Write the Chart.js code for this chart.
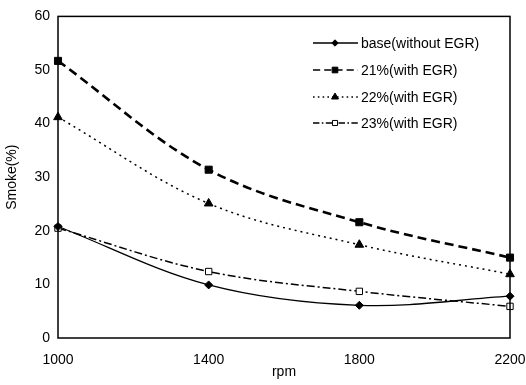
<!DOCTYPE html>
<html><head><meta charset="utf-8">
<script src="https://cdn.jsdelivr.net/npm/chart.js@4"></script>
<style>html,body{margin:0;padding:0;background:#fff}#wrap{width:526px;height:385px}</style>
</head><body><div id="wrap"><canvas id="c" width="526" height="385"></canvas></div>
<script>
const rpm = [1000, 1400, 1800, 2200];
const xTicks = [1000, 1400, 1800, 2200];
const seriesNames = ['base(without EGR)', '21%(with EGR)', '22%(with EGR)', '23%(with EGR)'];
const baseValues = [20.8, 9.9, 6.1, 7.8];
const egr21Values = [51.7, 31.4, 21.6, 15.0];
const egr22Values = [41.2, 25.1, 17.4, 11.9];
const egr23Values = [20.5, 12.4, 8.7, 5.9];

const FONT = 'Liberation Sans, Arial, sans-serif';
const styles = [
  {dash: [], width: 1.3, point: 'rectRot', radius: 4, fill: '#000'},
  {dash: [9, 5], width: 2.6, point: 'rect', radius: 5, fill: '#000'},
  {dash: [2, 4], width: 1.5, point: 'triangle', radius: 5, fill: '#000'},
  {dash: [8, 3, 2, 3], width: 1.5, point: 'rect', radius: 4.5, fill: '#fff'}
];
const values = [baseValues, egr21Values, egr22Values, egr23Values];

const datasets = values.map((v, i) => ({
  label: seriesNames[i],
  data: rpm.map((x, j) => ({x: x, y: v[j]})),
  borderColor: '#000',
  borderWidth: styles[i].width,
  borderDash: styles[i].dash,
  pointStyle: styles[i].point,
  pointRadius: styles[i].radius,
  pointBackgroundColor: styles[i].fill,
  pointBorderColor: '#000',
  pointBorderWidth: 1,
  tension: 0.35,
  fill: false,
  clip: false
}));

const boxAndLegend = {
  id: 'boxAndLegend',
  afterDatasetsDraw(chart) {
    const {ctx, chartArea: a} = chart;
    ctx.save();
    ctx.strokeStyle = '#000';
    ctx.lineWidth = 1.5;
    ctx.setLineDash([]);
    ctx.strokeRect(a.left, a.top, a.right - a.left, a.bottom - a.top);
    const x0 = 313, x1 = 358, xm = 335, xt = 361;
    const ys = [43, 70, 97, 123];
    ctx.font = '14px ' + FONT;
    ctx.textBaseline = 'middle';
    ctx.fillStyle = '#000';
    seriesNames.forEach((name, i) => {
      const s = styles[i];
      ctx.beginPath();
      ctx.lineWidth = Math.min(s.width, 1.5);
      ctx.setLineDash(s.dash.length ? s.dash.map(d => d * 0.8) : []);
      ctx.moveTo(x0, ys[i]);
      ctx.lineTo(x1, ys[i]);
      ctx.stroke();
      ctx.setLineDash([]);
      ctx.fillStyle = s.fill;
      ctx.lineWidth = 1;
      Chart.helpers.drawPoint(ctx, {pointStyle: s.point, radius: s.radius * 0.8, rotation: 0, borderWidth: 1}, xm, ys[i]);
      ctx.fillStyle = '#000';
      ctx.fillText(name, xt, ys[i] + 1);
    });
    ctx.restore();
  }
};

new Chart(document.getElementById('c'), {
  type: 'line',
  data: {datasets},
  options: {
    responsive: false,
    animation: false,
    layout: {padding: {top: 12, right: 0, left: 0, bottom: 0}},
    plugins: {legend: {display: false}, tooltip: {enabled: false}},
    scales: {
      x: {
        type: 'linear', min: 1000, max: 2200,
        afterBuildTicks: s => { s.ticks = xTicks.map(v => ({value: v})); },
        afterFit: s => { s.height = 47; s.paddingRight = 16; s.paddingLeft = 0; },
        grid: {display: false, drawTicks: false},
        border: {display: false},
        ticks: {color: '#000', font: {family: FONT, size: 14}, padding: 14, maxRotation: 0, callback: v => String(v)},
        title: {display: true, text: 'rpm', color: '#000', font: {family: FONT, size: 14}, padding: {top: 0}}
      },
      y: {
        min: 0, max: 60,
        afterFit: s => { s.width = 58; },
        grid: {display: false, drawTicks: false},
        border: {display: false},
        ticks: {stepSize: 10, color: '#000', font: {family: FONT, size: 14}, padding: 8},
        title: {display: true, text: 'Smoke(%)', color: '#000', font: {family: FONT, size: 14}, padding: {bottom: 4}}
      }
    }
  },
  plugins: [boxAndLegend]
});
</script></body></html>
